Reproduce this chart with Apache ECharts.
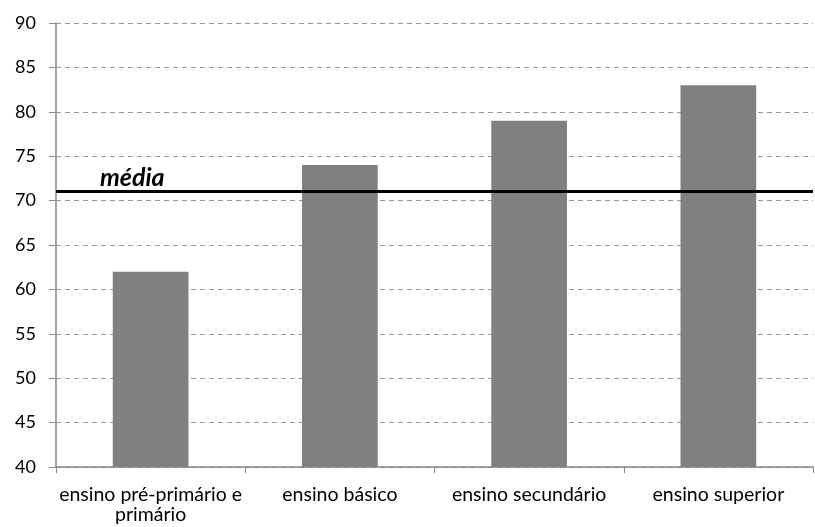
<!DOCTYPE html>
<html>
<head>
<meta charset="utf-8">
<script src="https://cdn.jsdelivr.net/npm/echarts@6/dist/echarts.min.js"></script>
<style>
  html, body { margin: 0; padding: 0; background: #fff; }
  #chart { width: 815px; height: 527px; }
</style>
</head>
<body>
<div id="chart"></div>
<script>
const categories = ['ensino pré-primário e\nprimário', 'ensino básico', 'ensino secundário', 'ensino superior']
const values = [62, 74, 79, 83]
const mediaValue = 71
const mediaLabel = 'média'

const chart = echarts.init(document.getElementById('chart'))
chart.setOption({
  animation: false,
  textStyle: { fontFamily: 'Lato' },
  grid: {
    left: 56,
    right: 2,
    top: 23,
    bottom: 60
  },
  xAxis: {
    type: 'category',
    data: categories,
    axisLine: { lineStyle: { color: '#888', width: 1.5 } },
    axisTick: { show: true, interval: 0, length: 6, lineStyle: { color: '#888' } },
    axisLabel: { interval: 0, color: '#000', fontSize: 19.5, margin: 18, lineHeight: 20 }
  },
  yAxis: {
    type: 'value',
    min: 40,
    max: 90,
    interval: 5,
    axisLine: { show: true, lineStyle: { color: '#888', width: 1.5 } },
    axisTick: { show: true, length: 7, lineStyle: { color: '#888' } },
    axisLabel: { color: '#000', fontSize: 18, margin: 20 },
    splitLine: { lineStyle: { color: '#999', type: [5, 4], width: 1 } }
  },
  series: [{
    type: 'bar',
    data: values,
    barWidth: '40%',
    itemStyle: { color: '#808080' },
    markLine: {
      silent: true,
      symbol: 'none',
      lineStyle: { color: '#000', width: 3, type: 'solid' },
      data: [{ yAxis: mediaValue }],
      label: {
        position: 'insideStartTop',
        formatter: mediaLabel,
        color: '#000',
        fontSize: 25,
        fontWeight: 'bold',
        fontStyle: 'italic',
        distance: [44, 1]
      }
    }
  }]
})
</script>
</body>
</html>
